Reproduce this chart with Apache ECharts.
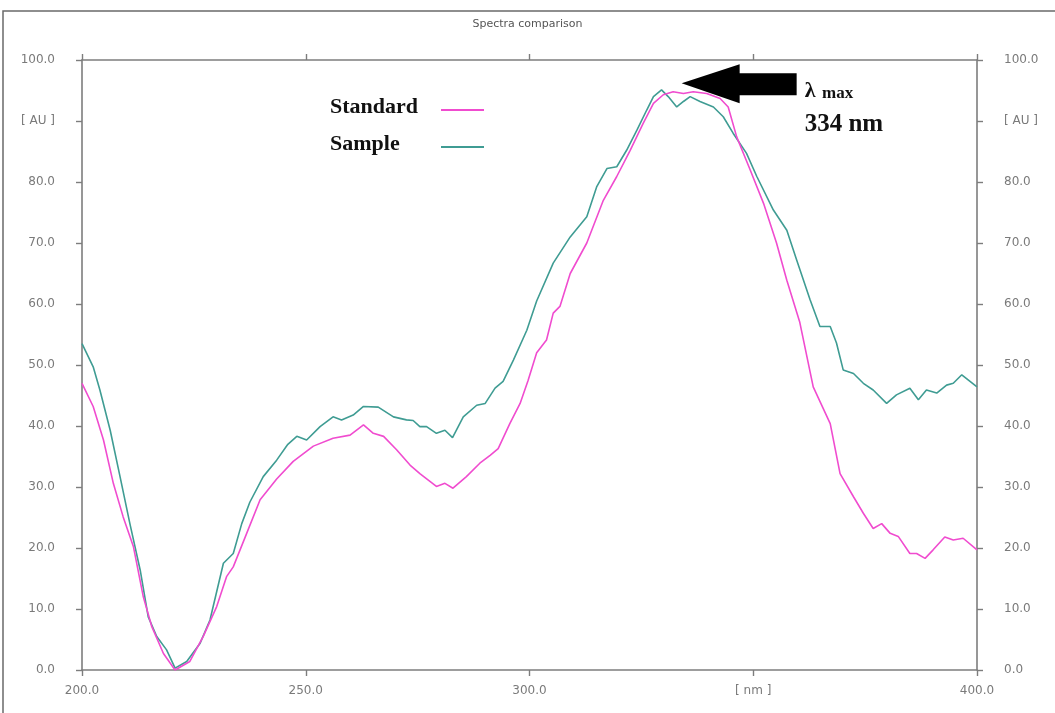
<!DOCTYPE html>
<html>
<head>
<meta charset="utf-8">
<title>Spectra comparison</title>
<script src="https://cdn.jsdelivr.net/npm/echarts@6/dist/echarts.min.js"></script>
<style>
  html, body { margin: 0; padding: 0; background: #ffffff; }
  #chart { width: 1055px; height: 713px; }
</style>
</head>
<body>
<div id="chart"></div>
<script>
// Wavelength axis ticks (nm) and absorbance ticks (AU)
const xTicks = [200, 250, 300, 350, 400];
const yTicks = [0, 10, 20, 30, 40, 50, 60, 70, 80, 90, 100];
const xUnitTick = 350;   // tick whose label shows the unit
const yUnitTick = 90;

const seriesNames = ['Standard', 'Sample'];

// Standard spectrum
const standardNm = [200, 202.5, 204.8, 207.0, 209.2, 211.5, 213.7, 215.6, 218.2, 220.8,
  224.1, 227.1, 230.1, 232.3, 233.8, 236.8, 239.8, 243.5, 247.2, 251.7,
  256.1, 259.9, 262.9, 265.1, 267.4, 270.3, 273.3, 275.5, 279.2, 281.1,
  282.9, 285.9, 288.9, 291.2, 293.0, 295.6, 297.9, 299.7, 301.6, 303.8,
  305.3, 306.8, 309.1, 312.8, 316.5, 319.5, 322.5, 325.4, 327.7, 329.9,
  332.1, 334.4, 336.6, 339.6, 342.6, 344.4, 346.3, 349.3, 352.3, 355.2,
  357.5, 360.4, 363.4, 367.2, 369.4, 372.4, 374.6, 376.8, 378.7, 380.6,
  382.4, 385.0, 386.5, 388.4, 390.2, 392.8, 394.7, 396.9, 400.0];
const standardAu = [47.0, 43.2, 37.7, 30.6, 25.1, 20.2, 12.0, 7.1, 2.7, 0.0,
  1.4, 5.5, 10.4, 15.3, 16.9, 22.4, 27.9, 31.3, 34.2, 36.7,
  38.0, 38.5, 40.2, 38.8, 38.3, 36.1, 33.6, 32.2, 30.1, 30.6,
  29.8, 31.7, 33.9, 35.2, 36.3, 40.4, 43.7, 47.5, 52.0, 54.1,
  58.5, 59.6, 65.0, 70.0, 77.0, 80.9, 85.2, 89.6, 92.9, 94.3,
  94.8, 94.5, 94.8, 94.5, 93.7, 92.3, 87.4, 82.0, 76.5, 70.0,
  63.9, 57.0, 46.4, 40.4, 32.2, 28.4, 25.7, 23.2, 24.0, 22.4,
  21.9, 19.1, 19.1, 18.3, 19.7, 21.8, 21.3, 21.6, 19.7];

// Sample spectrum
const sampleNm = [200, 202.5, 204.0, 206.3, 208.5, 210.7, 213.0, 214.8, 216.7, 218.9,
  220.8, 223.4, 226.4, 228.6, 231.6, 233.8, 235.7, 237.5, 240.5, 243.5,
  246.0, 248.0, 250.2, 253.2, 256.1, 258.0, 260.6, 262.9, 266.2, 269.6,
  272.5, 274.0, 275.5, 277.0, 279.2, 281.1, 282.8, 285.2, 288.2, 290.1,
  292.3, 294.1, 296.4, 299.4, 301.6, 305.3, 309.1, 312.8, 315.0, 317.3,
  319.5, 321.7, 324.0, 326.2, 327.7, 329.5, 331.0, 332.9, 334.4, 335.9,
  338.1, 341.1, 343.3, 345.5, 348.5, 350.8, 354.5, 357.5, 359.7, 362.7,
  364.9, 367.2, 368.6, 370.1, 372.4, 374.6, 376.8, 379.8, 382.0, 385.0,
  386.9, 388.7, 391.0, 393.2, 394.7, 396.6, 400.0];
const sampleAu = [53.5, 49.7, 45.9, 39.3, 31.7, 24.0, 16.4, 8.7, 5.5, 3.3,
  0.3, 1.4, 4.4, 8.2, 17.5, 19.1, 24.0, 27.5, 31.7, 34.4,
  37.0, 38.3, 37.7, 39.9, 41.5, 41.0, 41.8, 43.2, 43.1, 41.5,
  41.0, 40.9, 39.9, 39.9, 38.8, 39.3, 38.1, 41.5, 43.4, 43.7,
  46.2, 47.3, 50.8, 55.7, 60.5, 66.7, 71.0, 74.3, 79.2, 82.2,
  82.5, 85.2, 88.5, 91.8, 94.0, 95.1, 94.0, 92.3, 93.2, 94.0,
  93.2, 92.3, 90.7, 88.0, 84.7, 80.9, 75.4, 72.1, 67.2, 60.7,
  56.3, 56.3, 53.6, 49.2, 48.6, 47.0, 45.9, 43.7, 45.1, 46.2,
  44.3, 45.9, 45.4, 46.7, 47.0, 48.4, 46.4];

// Absorbance maximum marked by the arrow
const lambdaMax = 334;
const lambdaMaxAu = 96.2;

const colors = { standard: '#f04ccf', sample: '#3f9c93' };
const axisColor = '#7d7d7d';
const labelColor = '#7a7a7a';
const tickFont = 'DejaVu Sans';
const serifFont = '"Liberation Serif", "Times New Roman", serif';

const zip = (xs, ys) => xs.map((x, i) => [x, ys[i]]);
const fmtX = v => (v === xUnitTick ? '[ nm ]' : v.toFixed(1));
const fmtY = v => (v === yUnitTick ? '[ AU ]' : v.toFixed(1));

const xMin = xTicks[0], xMax = xTicks[xTicks.length - 1];
const xStep = xTicks[1] - xTicks[0];
const yMin = yTicks[0], yMax = yTicks[yTicks.length - 1];
const yStep = yTicks[1] - yTicks[0];

function xAxisCfg(position, showLabel) {
  return {
    type: 'value', position, min: xMin, max: xMax, interval: xStep,
    axisLine: { show: true, onZero: false, lineStyle: { color: axisColor, width: 1.6 } },
    axisTick: { show: true, inside: false, length: 6, lineStyle: { color: axisColor, width: 1.4 } },
    axisLabel: { show: showLabel, formatter: fmtX, margin: 15, color: labelColor,
                 fontFamily: tickFont, fontSize: 12 },
    splitLine: { show: false }
  };
}
function yAxisCfg(position) {
  return {
    type: 'value', position, min: yMin, max: yMax, interval: yStep,
    axisLine: { show: true, onZero: false, lineStyle: { color: axisColor, width: 1.6 } },
    axisTick: { show: true, inside: false, length: 6, lineStyle: { color: axisColor, width: 1.4 } },
    axisLabel: { formatter: fmtY, margin: 27, color: labelColor,
                 fontFamily: tickFont, fontSize: 12 },
    splitLine: { show: false }
  };
}

const chart = echarts.init(document.getElementById('chart'), null, { renderer: 'canvas' });

chart.setOption({
  backgroundColor: '#ffffff',
  animation: false,
  title: {
    text: 'Spectra comparison', left: 'center', top: 14,
    textStyle: { color: '#555', fontFamily: tickFont, fontSize: 11, fontWeight: 'normal' }
  },
  grid: { left: 82, right: 78, top: 60, bottom: 43, containLabel: false },
  xAxis: [xAxisCfg('bottom', true), xAxisCfg('top', false)],
  yAxis: [yAxisCfg('left'), yAxisCfg('right')],
  series: [
    {
      name: seriesNames[0], type: 'line', xAxisIndex: 0, yAxisIndex: 0,
      data: zip(standardNm, standardAu), showSymbol: false, z: 3,
      lineStyle: { color: colors.standard, width: 1.6 }, itemStyle: { color: colors.standard }
    },
    {
      name: seriesNames[1], type: 'line', xAxisIndex: 0, yAxisIndex: 0,
      data: zip(sampleNm, sampleAu), showSymbol: false, z: 2,
      lineStyle: { color: colors.sample, width: 1.6 }, itemStyle: { color: colors.sample }
    }
  ]
});

// Arrow pointing at λmax, plus legend and outer frame
const tip = chart.convertToPixel({ xAxisIndex: 0, yAxisIndex: 0 }, [lambdaMax, lambdaMaxAu]);
const tx = tip[0], ty = tip[1];
const arrowShape = [
  [0, 0], [58, -19], [58, -10], [115, -10], [115, 12], [58, 12], [58, 20]
].map(p => [tx + p[0], ty + p[1]]);

const legendItems = [
  { name: seriesNames[0], color: colors.standard, y: 109 },
  { name: seriesNames[1], color: colors.sample, y: 146 }
];
const legendGraphics = [];
legendItems.forEach(it => {
  legendGraphics.push({
    type: 'text', left: 330, top: it.y - 13,
    style: { text: it.name, fill: '#111', font: 'bold 22px ' + serifFont }
  });
  legendGraphics.push({
    type: 'line', shape: { x1: 441, y1: it.y + 1, x2: 484, y2: it.y + 1 },
    style: { stroke: it.color, lineWidth: 2 }
  });
});

chart.setOption({
  graphic: [
    { type: 'polyline', shape: { points: [[3, 720], [3, 11], [1060, 11]] },
      style: { stroke: '#6a6a6a', lineWidth: 1.5, fill: null } },
    { type: 'polygon', shape: { points: arrowShape }, style: { fill: '#000' }, z: 10 },
    { type: 'text', x: tx + 123, y: ty + 8,
      style: { text: '{l|λ}  {m|max}', fill: '#111', verticalAlign: 'middle',
        rich: { l: { font: 'bold 22px ' + serifFont, fill: '#111' },
                m: { font: 'bold 17px ' + serifFont, fill: '#111', padding: [4, 0, 0, 0] } } }, z: 10 },
    { type: 'text', x: tx + 123, y: ty + 41,
      style: { text: lambdaMax + ' nm', fill: '#111', font: 'bold 25px ' + serifFont,
               verticalAlign: 'middle' }, z: 10 },
    ...legendGraphics
  ]
});
</script>
</body>
</html>
